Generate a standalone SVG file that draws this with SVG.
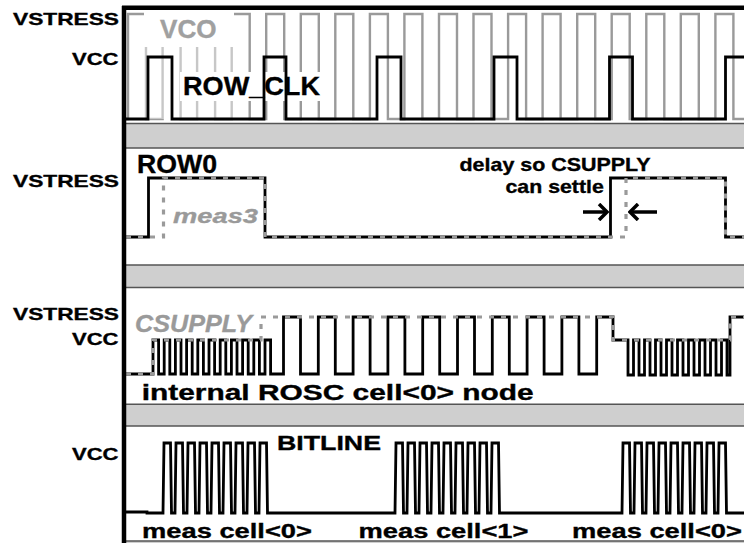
<svg xmlns="http://www.w3.org/2000/svg" width="744" height="543" viewBox="0 0 744 543">
<defs>
<style>
.lbl{font-family:"Liberation Sans",Arial,sans-serif;font-weight:bold;fill:#000;stroke:#000;stroke-width:0.35}
.gl{fill:#9a9a9a;stroke:#9a9a9a;font-style:italic}
.band{fill:#cfcfcf}
.bl{stroke:#555;stroke-width:1.4}
.blk{fill:none;stroke:#000;stroke-width:2.8;stroke-linejoin:miter}
.gry{fill:none;stroke:#9a9a9a;stroke-width:2.4}
.gdash{fill:none;stroke:#9a9a9a;stroke-width:3.2;stroke-dasharray:5 7}
.arr{fill:none;stroke:#000;stroke-width:3.5}
</style>
<marker id="chev" viewBox="0 0 12 18" refX="10" refY="9" markerWidth="12" markerHeight="18" markerUnits="userSpaceOnUse" orient="auto">
<path d="M2,1 L10,9 L2,17" fill="none" stroke="#000" stroke-width="3.5"/>
</marker>
</defs>
<rect width="744" height="543" fill="#fff"/>

<!-- gray separator bands -->
<g id="bands">
<rect class="band" x="126" y="123.5" width="618" height="24.5"/>
<line class="bl" x1="126" y1="123.5" x2="744" y2="123.5"/><line class="bl" x1="126" y1="148" x2="744" y2="148"/>
<rect class="band" x="126" y="265" width="618" height="22.5"/>
<line class="bl" x1="126" y1="265" x2="744" y2="265"/><line class="bl" x1="126" y1="287.5" x2="744" y2="287.5"/>
<rect class="band" x="126" y="404.3" width="618" height="21.7"/>
<line class="bl" x1="126" y1="404.3" x2="744" y2="404.3"/><line class="bl" x1="126" y1="426" x2="744" y2="426"/>
<rect class="band" x="126" y="541" width="618" height="2"/>
<line class="bl" x1="126" y1="541" x2="744" y2="541"/>
</g>

<!-- panel 1: VCO and ROW_CLK -->
<g id="panel-vco">
<path class="gry" d="M126,119 H128 V14 H146 V119 H162.6 V14 H180.6 V119 H197.1 V14 H215.1 V119 H231.7 V14 H249.7 V119 H266.2 V14 H284.2 V119 H300.8 V14 H318.8 V119 H335.3 V14 H353.3 V119 H369.9 V14 H387.9 V119 H404.4 V14 H422.4 V119 H439 V14 H457 V119 H473.5 V14 H491.5 V119 H508.1 V14 H526.1 V119 H542.6 V14 H560.6 V119 H577.2 V14 H595.2 V119 H611.7 V14 H629.7 V119 H646.3 V14 H664.3 V119 H680.8 V14 H698.8 V119 H715.4 V14 H733.4 V119 H744"/>
<rect x="144" y="10" width="90" height="37" fill="#fff"/>
<rect x="144" y="47" width="90" height="72" fill="#fff" fill-opacity="0.45"/>
<rect x="180" y="72" width="142" height="29" fill="#fff"/>
<path class="blk" d="M126,119 H148 V57 H172 V119 H264 V57 H286 V119 H377 V57 H401 V119 H494 V57 H517 V119 H609.5 V57 H632.5 V119 H725.5 V57 H744"/>
<text class="lbl" x="13" y="25" font-size="17" textLength="106" lengthAdjust="spacingAndGlyphs">VSTRESS</text>
<text class="lbl" x="72" y="65" font-size="17" textLength="46.5" lengthAdjust="spacingAndGlyphs">VCC</text>
<text class="lbl" x="160" y="38" font-size="25.5" textLength="56.5" lengthAdjust="spacingAndGlyphs" style="fill:#a0a0a0;stroke:#a0a0a0">VCO</text>
<text class="lbl" x="183" y="95" font-size="25.5" textLength="137" lengthAdjust="spacingAndGlyphs">ROW_CLK</text>
</g>

<!-- panel 2: ROW0 and meas3 -->
<g id="panel-row0">
<path class="blk" d="M126,237 H148.5 V178 H265 V237 H610.5 V178 H725.5 V237 H744"/>
<path class="gdash" d="M126,237 H163.5 V178 H265 V237 H626 V178 H725.5 V237 H744"/>
<text class="lbl" x="137" y="173" font-size="25.5" textLength="80" lengthAdjust="spacingAndGlyphs">ROW0</text>
<text class="lbl" x="13" y="186.5" font-size="17" textLength="106" lengthAdjust="spacingAndGlyphs">VSTRESS</text>
<text class="lbl gl" x="173" y="223" font-size="21" textLength="85" lengthAdjust="spacingAndGlyphs">meas3</text>
<text class="lbl" x="459.5" y="171" font-size="18.6" textLength="191" lengthAdjust="spacingAndGlyphs">delay so CSUPPLY</text>
<text class="lbl" x="505.5" y="192.5" font-size="18.6" textLength="98.3" lengthAdjust="spacingAndGlyphs">can settle</text>
</g>

<g id="connectors">
<path class="arr" d="M583,212 H607" marker-end="url(#chev)"/>
<path class="arr" d="M657,212 H630" marker-end="url(#chev)"/>
</g>

<!-- panel 3: CSUPPLY and ROSC node -->
<g id="panel-rosc">
<path class="blk" d="M126,374 H153 V340 H158.6 V374 H164.2 V340 H169.8 V374 H175.4 V340 H181 V374 H186.6 V340 H192.2 V374 H197.8 V340 H203.4 V374 H209 V340 H214.6 V374 H220.2 V340 H225.8 V374 H231.4 V340 H237 V374 H242.6 V340 H248.2 V374 H253.8 V340 H259.4 V374 H265 V340 H270.6 V374 H283.5 V317 H300.5 V374 H318.3 V317 H335.3 V374 H353.1 V317 H370.1 V374 H387.9 V317 H404.9 V374 H422.7 V317 H439.7 V374 H457.5 V317 H474.5 V374 H492.3 V317 H509.3 V374 H527.1 V317 H544.1 V374 H561.9 V317 H578.9 V374 H596.7 V317 H613 V340 H628 V375 H633.5 V340 H639 V375 H644.5 V340 H650 V375 H655.5 V340 H661 V375 H666.5 V340 H672 V375 H677.5 V340 H683 V375 H688.5 V340 H694 V375 H699.5 V340 H705 V375 H710.5 V340 H716 V375 H721.5 V340 H727 V375 H730 V317 H744"/>
<path class="gdash" d="M126,374 H153 V340 H261 V317 H613 V340 H730.5 V317 H744"/>
<text class="lbl" x="13" y="320" font-size="17" textLength="106" lengthAdjust="spacingAndGlyphs">VSTRESS</text>
<text class="lbl" x="72" y="345" font-size="17" textLength="46.5" lengthAdjust="spacingAndGlyphs">VCC</text>
<text class="lbl gl" x="135" y="331.5" font-size="23.3" textLength="117" lengthAdjust="spacingAndGlyphs">CSUPPLY</text>
<text class="lbl" x="141.7" y="400" font-size="22" textLength="392" lengthAdjust="spacingAndGlyphs">internal ROSC cell&lt;0&gt; node</text>
</g>

<!-- panel 4: BITLINE -->
<g id="panel-bitline">
<path class="blk" stroke-width="2.4" d="M126,512 H147 V513 H163 l1,-70 h6.5 l1,70 h3.5 l1,-70 h6.5 l1,70 h3.5 l1,-70 h6.5 l1,70 h3.5 l1,-70 h6.5 l1,70 h3.5 l1,-70 h6.5 l1,70 h3.5 l1,-70 h6.5 l1,70 h3.5 l1,-70 h6.5 l1,70 h3.5 l1,-70 h6.5 l1,70 h3.5 l1,-70 h6.5 l1,70 H395 l1,-70 h6.5 l1,70 h3.5 l1,-70 h6.5 l1,70 h3.5 l1,-70 h6.5 l1,70 h3.5 l1,-70 h6.5 l1,70 h3.5 l1,-70 h6.5 l1,70 h3.5 l1,-70 h6.5 l1,70 h3.5 l1,-70 h6.5 l1,70 h3.5 l1,-70 h6.5 l1,70 h3.5 l1,-70 h6.5 l1,70 H622 l1,-70 h6.5 l1,70 h3.5 l1,-70 h6.5 l1,70 h3.5 l1,-70 h6.5 l1,70 h3.5 l1,-70 h6.5 l1,70 h3.5 l1,-70 h6.5 l1,70 h3.5 l1,-70 h6.5 l1,70 h3.5 l1,-70 h6.5 l1,70 h3.5 l1,-70 h6.5 l1,70 h3.5 l1,-70 h6.5 l1,70 H744"/>
<text class="lbl" x="72" y="460" font-size="17" textLength="46.5" lengthAdjust="spacingAndGlyphs">VCC</text>
<text class="lbl" x="277" y="450" font-size="21" textLength="104" lengthAdjust="spacingAndGlyphs">BITLINE</text>
<text class="lbl" x="142" y="538" font-size="21" textLength="170" lengthAdjust="spacingAndGlyphs">meas cell&lt;0&gt;</text>
<text class="lbl" x="358.5" y="538" font-size="21" textLength="170" lengthAdjust="spacingAndGlyphs">meas cell&lt;1&gt;</text>
<text class="lbl" x="572" y="538" font-size="21" textLength="170" lengthAdjust="spacingAndGlyphs">meas cell&lt;0&gt;</text>
</g>

<!-- frame -->
<g id="frame">
<line x1="124" y1="6" x2="124" y2="543" stroke="#000" stroke-width="4.5"/>
<line x1="122" y1="7.8" x2="744" y2="7.8" stroke="#000" stroke-width="4.5"/>
</g>
</svg>
